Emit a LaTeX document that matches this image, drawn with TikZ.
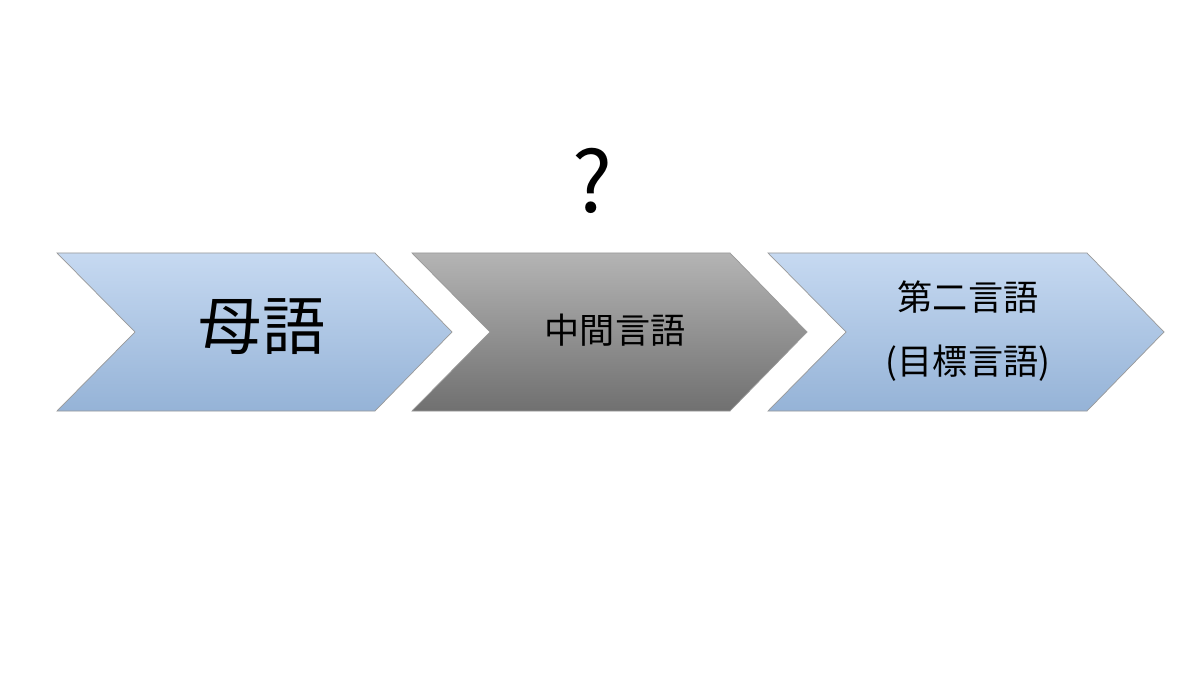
\documentclass[tikz,border=0pt]{standalone}
\usepackage{fontspec}
\setmainfont{Noto Sans CJK JP}
\usetikzlibrary{positioning}
\definecolor{bluetop}{HTML}{C6D9F1}
\definecolor{bluebot}{HTML}{95B3D7}
\definecolor{graytop}{HTML}{B4B4B4}
\definecolor{graybot}{HTML}{707070}

\tikzset{
  chevblue/.style={draw=gray!80,top color=bluetop,bottom color=bluebot},
  chevgray/.style={draw=gray!80,top color=graytop,bottom color=graybot},
  label/.style={align=center,inner sep=0pt}
}

\begin{document}
\begin{tikzpicture}[x=0.02cm,y=-0.02cm]
\useasboundingbox (0,0) rectangle (1200,675);
\fill[white] (0,0) rectangle (1200,675);

\draw[chevblue] (57,253) -- (375,253) -- (452,332) -- (375,411) -- (57,411) -- (135,332) -- cycle;
\draw[chevgray] (412,253) -- (730,253) -- (807,332) -- (730,411) -- (412,411) -- (490,332) -- cycle;
\draw[chevblue] (768,253) -- (1087,253) -- (1164,332) -- (1087,411) -- (768,411) -- (846,332) -- cycle;

\node[label,font=\fontsize{36}{40}\selectfont] (mother) at (262,327) {母語};
\node[label,font=\fontsize{20}{24}\selectfont] (inter) at (615,330) {中間言語};
\node[label,font=\fontsize{20}{36}\selectfont] (second) at (968,331) {第二言語\\(目標言語)};
\node[label,font=\fontsize{48}{50}\selectfont] (quest) at (592,181) {?};
\end{tikzpicture}
\end{document}
